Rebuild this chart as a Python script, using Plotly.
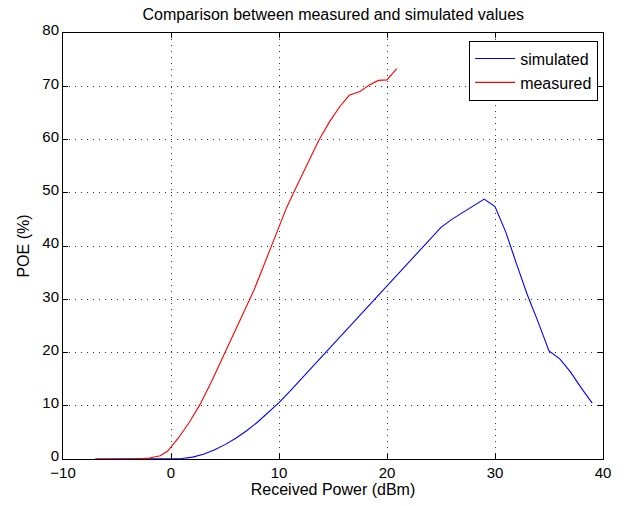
import plotly.graph_objects as go

sim_x = list(range(-7, 40))
sim_y = [0, 0, 0, 0, 0, 0, 0, 0,
         0.1, 0.35, 0.9, 1.7, 2.7, 3.9, 5.3, 6.9, 8.7, 10.6,
         12.7, 14.9, 17.1, 19.3, 21.5, 23.7, 25.9, 28.1, 30.3, 32.5,
         34.7, 36.9, 39.1, 41.3, 43.5, 45.0, 46.3, 47.5, 48.8, 47.4,
         42.6, 36.6, 30.8, 25.7, 20.3, 18.8, 16.3, 13.3, 10.5]

meas_x = [-7, -6, -5, -4, -3, -2, -1, -0.3, 0.7, 1.7, 2.7, 3.7, 4.7, 5.7, 6.7,
          7.7, 8.7, 9.7, 10.7, 11.7, 12.7, 13.7, 14.7, 15.6, 16.5, 17.5,
          18.4, 19.2, 20.0, 20.9]
meas_y = [0, 0, 0, 0, 0.05, 0.2, 0.6, 1.5, 4.0, 6.9, 10.3, 14.3, 18.6, 22.9,
          27.2, 31.8, 36.9, 42.1, 47.2, 51.5, 55.7, 59.9, 63.4, 66.1, 68.3,
          69.0, 70.3, 71.1, 71.2, 73.3]

x_ticks = [-10, 0, 10, 20, 30, 40]
y_ticks = [0, 10, 20, 30, 40, 50, 60, 70, 80]

font = "Liberation Sans, Arial, sans-serif"

fig = go.Figure()
fig.add_trace(go.Scatter(x=sim_x, y=sim_y, mode="lines", name="simulated",
                         line=dict(color="rgb(0,0,255)", width=1.1)))
fig.add_trace(go.Scatter(x=meas_x, y=meas_y, mode="lines", name="measured",
                         line=dict(color="rgb(255,0,0)", width=1.1)))

axis_common = dict(
    showline=True, linecolor="black", linewidth=1, mirror="ticks",
    ticks="inside", ticklen=5, tickcolor="black", automargin=False,
    showgrid=True, gridcolor="rgba(0,0,0,0.8)", griddash="1px,5px", gridwidth=1,
    zeroline=False, tickfont=dict(family=font, size=15, color="black"),
)

fig.update_layout(
    width=630, height=506,
    margin=dict(l=63, r=27, t=33, b=47),
    paper_bgcolor="white", plot_bgcolor="white",
    title=dict(text="Comparison between measured and simulated values",
               x=0.529, xanchor="center", y=0.972, yanchor="middle",
               font=dict(family=font, size=16, color="black")),
    xaxis=dict(range=[-10, 40], tickvals=x_ticks,
               ticktext=["\u221210" if v < 0 else str(v) for v in x_ticks],
               title=dict(text="Received Power (dBm)", standoff=3,
                          font=dict(family=font, size=16, color="black")),
               **axis_common),
    yaxis=dict(range=[0, 80], tickvals=y_ticks, ticklabelshift=-3,
               title=dict(text="POE (%)", standoff=8,
                          font=dict(family=font, size=16, color="black")),
               **axis_common),
    legend=dict(x=0.991, y=0.982, xanchor="right", yanchor="top",
                bordercolor="black", borderwidth=1, bgcolor="white",
                font=dict(family=font, size=16, color="black"),
                tracegroupgap=0, itemwidth=40),
    showlegend=True,
)

fig.write_html("out.html")
